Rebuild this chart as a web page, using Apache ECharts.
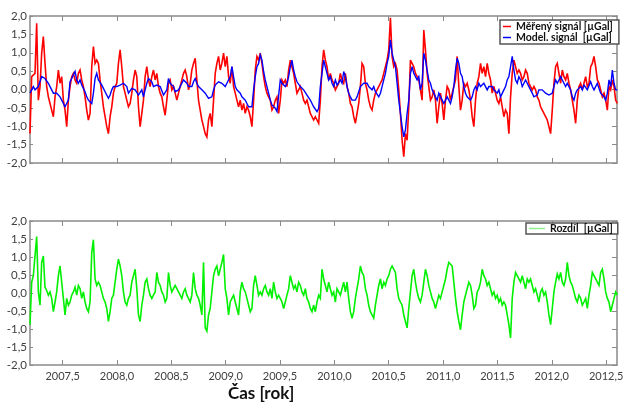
<!DOCTYPE html>
<html>
<head>
<meta charset="utf-8">
<script src="https://cdn.jsdelivr.net/npm/echarts@6/dist/echarts.min.js"></script>
<style>
  html, body { margin: 0; padding: 0; background: #ffffff; }
  #chart { width: 627px; height: 407px; }
</style>
</head>
<body>
<div id="chart"></div>
<script>
// Sampling of the gravity records: first epoch (decimal year) and spacing
const startYear = 2007.2;
const stepYears = 0.01535;

// Bottom-axis tick positions (decimal years)
const xTickYears = [2007.5, 2008.0, 2008.5, 2009.0, 2009.5, 2010.0, 2010.5, 2011.0, 2011.5, 2012.0, 2012.5];

// Measured gravity signal [µGal]
const measured = [
  -1.20, 0.35, 0.30, 0.44, 1.80, -0.29, 0.08, 0.99, 1.44, 0.71,
  0.08, -0.20, -0.38, -0.56, -0.74, -0.20, 0.08, 0.53, 0.17, 0.35,
  -0.29, -0.56, -1.01, -0.29, 0.08, 0.35, 0.44, 0.26, 0.17, 0.44,
  0.53, 0.26, 0.08, -0.20, -0.56, -0.83, -0.65, 0.62, 1.17, 0.71,
  0.80, 0.71, 0.26, -0.10, -0.47, -0.74, -1.01, -1.20, -0.74, -0.47,
  -0.10, 0.08, 0.17, 0.71, 1.08, 0.62, 0.08, -0.10, -0.29, -0.47,
  -0.38, -0.10, 0.26, 0.53, 0.35, -0.47, -1.01, -0.65, -0.29, 0.35,
  0.62, 0.26, 0.08, 0.35, 0.53, 0.26, 0.44, 0.08, -0.10, -0.20,
  -0.47, -0.70, -0.29, 0.17, 0.26, -0.01, 0.08, -0.10, -0.29, -0.10,
  0.08, 0.26, 0.44, 0.53, 0.35, -0.01, 0.17, 0.53, 0.71, 0.85,
  0.26, -0.29, -0.56, -0.83, -1.01, -1.20, -1.29, -0.83, -0.65, -1.01,
  -0.29, 0.44, 0.71, 0.90,
  0.53, 0.71, 0.99, 0.62, 0.90, 0.35, 0.17, 0.62, 0.08, -0.10,
  -0.29, -0.47, -0.29, -0.56, -0.38, -0.65, -0.47, -0.56, -0.74, -1.01,
  -0.29, 0.53, 0.90, 0.80, 0.99, 0.71, 0.35, 0.08, -0.10, -0.20,
  -0.29, -0.56, -0.47, -0.29, -0.20, -0.65, -0.29, 0.26, 0.17, 0.26,
  0.08, 0.53, 0.80, 0.62, 0.44, 0.17, -0.10, -0.01, 0.08, -0.10,
  -0.29, -0.38, -0.29, -0.47, -0.65, -0.74, -0.83, -0.74, -0.83, -0.92,
  -0.29, 0.62, 1.08, 0.80, 0.62, 0.26, 0.44, 0.26, 0.17, -0.01,
  0.08, 0.17, 0.44, 0.26, 0.17, 0.44, 0.08, -0.10, -0.38, -0.47,
  -0.74, -0.92, -0.65, -0.38, 0.08, 0.71, 0.62, 0.17, -0.01, -0.29,
  -0.47, -0.56, -0.29, -0.10, -0.01, 0.08, 0.17, 0.26, 0.44, 0.62,
  0.80, 1.08, 1.95, 0.90, 0.62, 0.71, 0.53, -0.01, -0.65, -1.38,
  -1.83, -1.20, -1.38, -0.47, 0.80, 0.71, 0.62, 0.44, 0.35, 0.26,
  -0.01, -0.29, 1.62, 1.08, 0.44, 0.08, -0.29, -0.20, -0.01, -0.29,
  -0.92, -0.47, -0.10, -0.38, -0.83, -0.29, 0.08, -0.01, -0.29, -0.10,
  0.08, 0.26, 0.90, 0.08, -0.56, -0.29, 0.17, 0.08, 0.17, -0.01,
  -0.29, -0.74, -1.01, -0.29, 0.17, 0.35, 0.71, 0.44, 0.62, 0.35,
  0.71, 0.44, 0.26, -0.10, 0.08, -0.10, -0.29, -0.38, -0.20, -0.47,
  -0.74, -0.56, -0.65, -1.20, -0.20, 0.44, 0.80, 0.62, 0.44, 0.53,
  0.44, 0.26, 0.35, 0.53, 0.44, 0.17, 0.08, -0.01, 0.08, -0.01,
  -0.20, -0.29, -0.47, -0.56, -0.65, -0.74, -0.83, -1.01, -1.20, -0.56,
  0.17, 0.62, 0.71, 0.44, 0.17, 0.53, 0.35, 0.26, 0.44, 0.17,
  -0.01, -0.29, -0.56, -0.92, -0.29, 0.08, 0.17, -0.01, 0.17, 0.35,
  0.08, 0.17, 0.62, 0.71, 0.90, 0.62, 0.26, 0.17, -0.01, -0.20,
  -0.10, -0.29, -0.56, 0.08, -0.01, 0.26, 0.08, -0.29, -0.38
];

// Modelled signal [µGal]
const model = [
  -0.10, -0.06, 0.08, -0.01, 0.03, 0.08, 0.03, 0.35, 0.40, 0.30,
  0.26, 0.17, 0.08, -0.01, -0.10, -0.06, -0.10, -0.15, -0.20, -0.29,
  -0.38, -0.47, -0.51, -0.29, 0.21, 0.30, 0.40, 0.49, 0.26, 0.17,
  0.26, 0.12, 0.03, -0.06, -0.20, -0.29, -0.33, -0.38, -0.10, 0.30,
  0.44, 0.26, 0.21, 0.12, 0.03, -0.06, -0.15, -0.24, -0.15, -0.01,
  0.08, 0.12, 0.08, 0.12, 0.12, 0.17, 0.17, 0.21, 0.08, -0.10,
  -0.06, 0.03, 0.03, -0.01, 0.00, -0.15, -0.10, -0.01, -0.20, -0.01,
  0.17, 0.30, 0.35, 0.21, 0.08, 0.08, 0.12, 0.17, 0.08, 0.03,
  -0.15, -0.20, -0.01, 0.30, 0.17, 0.12, 0.08, -0.06, -0.01, -0.01,
  0.03, 0.17, 0.26, 0.30, 0.17, 0.08, 0.03, 0.08, 0.21, 0.30,
  0.17, 0.08, 0.03, -0.01, -0.06, -0.10, -0.15, -0.24, -0.29, -0.20,
  -0.01, 0.12, 0.17, 0.21,
  0.26, 0.17, 0.12, 0.08, 0.17, 0.21, 0.35, 0.62, 0.35, 0.08,
  -0.01, -0.06, -0.10, -0.20, -0.24, -0.29, -0.38, -0.47, -0.51, -0.47,
  -0.01, 0.35, 0.62, 0.71, 0.94, 0.80, 0.49, 0.26, 0.08, -0.10,
  -0.29, -0.42, -0.47, -0.51, -0.60, -0.65, 0.26, 0.17, 0.12, 0.08,
  0.17, 0.35, 0.62, 0.80, 0.53, 0.35, 0.21, 0.17, 0.08, 0.03,
  -0.01, -0.06, -0.15, -0.20, -0.29, -0.38, -0.47, -0.51, -0.60, -0.51,
  0.08, 0.44, 0.80, 0.62, 0.44, 0.26, 0.35, 0.17, 0.08, 0.26,
  0.12, 0.08, 0.26, 0.17, 0.49, 0.35, 0.08, -0.10, -0.20, -0.29,
  -0.33, -0.29, -0.20, -0.06, 0.08, 0.08, 0.17, 0.21, 0.17, 0.08,
  0.12, -0.01, 0.08, -0.06, -0.10, -0.20, -0.10, 0.08, 0.26, 0.44,
  0.71, 0.90, 1.35, 0.99, 0.80, 0.62, 0.17, -0.29, -0.65, -1.01,
  -1.29, -1.10, -0.65, -0.29, 0.44, 0.62, 0.44, 0.35, 0.26, 0.35,
  -0.01, 0.17, 0.99, 0.80, 0.53, 0.26, 0.17, -0.01, -0.10, -0.20,
  -0.29, -0.10, -0.20, -0.29, -0.38, -0.29, -0.20, -0.29, -0.38, -0.20,
  0.08, 0.53, 0.85, 0.71, 0.44, 0.35, 0.08, -0.10, -0.20, -0.24,
  -0.29, -0.20, -0.01, 0.08, -0.01, 0.17, 0.08, 0.12, 0.17, 0.08,
  -0.01, 0.08, 0.03, 0.08, -0.01, -0.06, -0.10, -0.01, -0.20, -0.15,
  -0.01, 0.08, 0.26, 0.35, 0.62, 0.90, 0.53, 0.26, 0.17, 0.35,
  0.26, 0.08, 0.17, 0.26, 0.17, 0.08, -0.01, -0.10, -0.20, -0.24,
  -0.15, -0.01, 0.03, -0.01, -0.06, -0.10, -0.10, -0.15, -0.15, -0.10,
  0.08, 0.26, 0.17, 0.26, 0.35, 0.26, 0.17, 0.08, 0.17, 0.08,
  -0.01, -0.20, -0.29, -0.10, -0.01, 0.03, 0.08, -0.01, 0.12, 0.08,
  -0.01, 0.03, 0.21, 0.08, -0.01, 0.08, 0.17, 0.03, -0.10, -0.15,
  -0.20, -0.29, -0.10, 0.26, 0.08, 0.53, 0.17, -0.01, -0.01
];

// Difference measured - model [µGal]
const difference = [
  -0.88, 0.30, 0.48, 1.03, 1.57, 0.03, -0.34, 0.85, 1.03, 0.16,
  0.07, -0.06, 0.03, -0.15, -0.52, -0.25, 0.03, 0.48, 0.75, 0.75,
  -0.15, -0.61, -0.15, -0.34, -0.25, -0.06, 0.03, 0.16, -0.06, 0.21,
  0.12, -0.15, 0.03, -0.25, -0.43, -0.52, -0.25, 1.12, 1.48, 0.39,
  0.21, 0.30, 0.21, 0.03, -0.15, -0.25, -0.43, -0.79, -0.52, -0.15,
  -0.06, 0.30, 0.66, 0.94, 0.75, 0.48, 0.03, -0.25, -0.34, -0.15,
  -0.06, 0.30, 0.48, 0.66, 0.12, -0.61, -0.79, -0.34, -0.06, 0.30,
  0.39, 0.12, -0.06, -0.15, -0.06, 0.03, 0.57, 0.30, 0.21, 0.03,
  -0.06, -0.25, -0.15, 0.57, 0.21, 0.03, 0.12, 0.21, 0.12, 0.03,
  -0.06, -0.15, 0.03, 0.12, -0.06, -0.15, -0.25, -0.06, 0.57, 0.12,
  -0.06, -0.15, -0.34, -0.61, 0.85, -0.97, -1.06, -0.61, -0.43, 0.03,
  0.48, 0.66, 0.75, 0.48, 0.66, 0.85, 1.07, 0.12, -0.15, -0.61,
  -0.25, -0.15, -0.06, -0.25, -0.43, -0.61, 0.03, 0.30, 0.12, 0.03,
  -0.15, -0.34, -0.52, -0.43, 0.21, 0.48, 0.21, -0.06, 0.03, -0.06,
  0.12, 0.21, 0.03, -0.06, 0.12, -0.15, 0.30, 0.03, -0.15, -0.06,
  -0.15, -0.25, -0.43, -0.25, -0.06, 0.12, 0.48, 0.30, 0.12, 0.21,
  0.03, 0.30, 0.21, 0.03, -0.06, 0.12, -0.15, -0.25, -0.43, -0.52,
  -0.34, -0.52, -0.25, -0.06,
  -0.15, 0.66, 0.39, 0.21, 0.03, 0.30, 0.12, -0.06, 0.03, -0.25,
  0.12, 0.03, -0.06, 0.12, 0.30, 0.03, 0.30, -0.15, -0.52, -0.70,
  -0.52, -0.15, 0.12, 0.39, 0.75, 0.57, 0.48, 0.12, -0.06, -0.34,
  -0.52, -0.61, -0.70, -0.34, -0.06, 0.21, 0.39, 0.12, 0.30, 0.21,
  0.39, 0.48, 0.66, 0.75, 0.80, 0.57, 0.12, -0.15, -0.25, -0.34,
  -0.61, -0.79, -0.97, -0.43, 0.03, 0.48, 0.66, 0.30, 0.03, -0.15,
  -0.25, -0.06, 0.30, 0.66, 0.48, 0.21, 0.03, -0.15, -0.25, -0.43,
  -0.25, -0.06, -0.15, 0.03, 0.21, 0.39, 0.66, 0.85, 0.89, 0.75,
  0.30, -0.15, -0.52, -0.79, -1.02, -0.61, -0.25, -0.06, 0.12, 0.30,
  0.21, -0.06, -0.43, -0.34, 0.03, 0.12, 0.30, 0.66, 0.48, 0.39,
  0.21, 0.30, 0.12, -0.06, 0.03, -0.15, -0.06, -0.25, -0.15, -0.34,
  -0.25, -0.34, -0.61, -0.88, -1.25, -0.15, 0.30, 0.57, 0.48, 0.39,
  0.30, 0.48, 0.30, 0.12, 0.39, 0.30, 0.39, 0.21, 0.03, 0.12,
  -0.06, -0.25, 0.03, 0.12, -0.06, 0.03, -0.25, -0.61, -0.88, -0.43,
  0.03, 0.30, 0.53, 0.39, 0.57, 0.30, 0.21, 0.39, 0.85, 0.48,
  0.30, 0.21, 0.03, -0.15, -0.25, -0.06, -0.15, -0.34, -0.25, -0.15,
  -0.43, -0.06, 0.21, 0.57, 0.48, 0.39, 0.30, 0.21, 0.57, 0.66,
  0.39, 0.03, -0.15, -0.25, -0.52, -0.34, -0.15, 0.03, -0.06
];

const seriesNames = ['Měřený signál [µGal]', 'Model. signál  [µGal]', 'Rozdíl  [µGal]'];

const toPairs = arr => arr.map((v, i) => [startYear + i * stepYears, v]);

const FONT = 'Lato, "Open Sans", sans-serif';
const FRAME = '#8a8a8a';
const comma = v => v.toFixed(1).replace('.', ',');

function xAxisFor(grid, pos, labels) {
  return {
    type: 'value', gridIndex: grid, position: pos,
    min: 2007.2, max: 2012.6,
    axisLine: { show: true, onZero: false, lineStyle: { color: FRAME, width: 1.5 } },
    axisTick: { show: true, inside: true, length: 5, customValues: xTickYears,
                lineStyle: { color: FRAME, width: 1 } },
    axisLabel: { show: labels, customValues: xTickYears, formatter: comma,
                 fontFamily: FONT, fontSize: 11, color: '#404040', margin: 6 },
    splitLine: { show: false }
  };
}
function yAxisFor(grid, pos, labels) {
  return {
    type: 'value', gridIndex: grid, position: pos,
    min: -2, max: 2, interval: 0.5,
    axisLine: { show: true, lineStyle: { color: FRAME, width: 1.5 } },
    axisTick: { show: true, inside: true, length: labels ? 3 : 5,
                lineStyle: { color: FRAME, width: 1 } },
    axisLabel: { show: labels, formatter: comma, fontFamily: FONT, fontSize: 11.5,
                 color: '#404040', margin: 3 },
    splitLine: { show: false }
  };
}

function trace(name, axis, values, color, width) {
  return {
    name: name, type: 'line', xAxisIndex: axis, yAxisIndex: axis,
    data: toPairs(values), showSymbol: false, symbol: 'none',
    lineStyle: { color: color, width: width, join: 'miter', miterLimit: 4 },
    itemStyle: { color: color }
  };
}

const chart = echarts.init(document.getElementById('chart'), null, { renderer: 'canvas' });
chart.setOption({
  animation: false,
  backgroundColor: '#ffffff',
  grid: [
    { left: 30, top: 16, width: 587, height: 147 },
    { left: 30, top: 221, width: 587, height: 144 }
  ],
  xAxis: [
    xAxisFor(0, 'bottom', false), xAxisFor(0, 'top', false),
    xAxisFor(1, 'bottom', true), xAxisFor(1, 'top', false)
  ],
  yAxis: [
    yAxisFor(0, 'left', true), yAxisFor(0, 'right', false),
    yAxisFor(1, 'left', true), yAxisFor(1, 'right', false)
  ],
  legend: [
    {
      data: [seriesNames[0], seriesNames[1]],
      orient: 'vertical', left: 500, top: 20,
      icon: 'rect', itemWidth: 8, itemHeight: 1.5, itemGap: 0,
      padding: [1, 6, 1, 3],
      borderColor: '#555555', borderWidth: 1.5, backgroundColor: '#ffffff',
      textStyle: { fontFamily: FONT, fontSize: 10.5, fontWeight: 'bold', color: '#111111',
                   lineHeight: 11 }
    },
    {
      data: [{ name: seriesNames[2], itemStyle: { color: '#8cf08c' } }],
      left: 526, top: 223,
      icon: 'rect', itemWidth: 16, itemHeight: 1.5,
      padding: [0, 5, 0, 3],
      borderColor: '#555555', borderWidth: 1.5, backgroundColor: '#ffffff',
      textStyle: { fontFamily: FONT, fontSize: 10.5, fontWeight: 'bold', color: '#111111',
                   lineHeight: 11 }
    }
  ],
  graphic: [
    { type: 'text', left: 228, top: 385,
      style: { text: 'Čas [rok]', font: 'bold 17px ' + FONT, fill: '#111111' } }
  ],
  series: [
    trace(seriesNames[0], 0, measured, '#ff0000', 1.6),
    trace(seriesNames[1], 0, model, '#0000ff', 1.4),
    trace(seriesNames[2], 2, difference, '#00f000', 1.6)
  ]
});
</script>
</body>
</html>
